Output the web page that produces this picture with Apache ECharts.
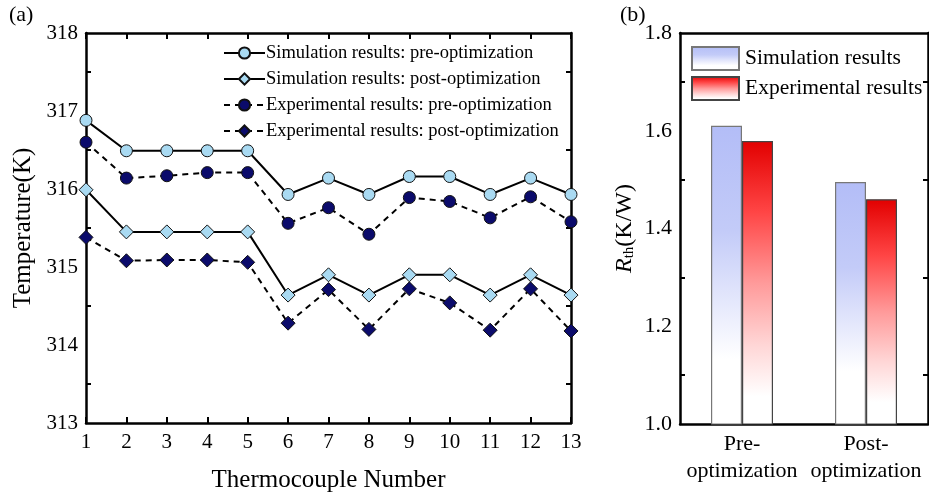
<!DOCTYPE html>
<html><head><meta charset="utf-8">
<script src="https://cdn.jsdelivr.net/npm/echarts@6/dist/echarts.min.js"></script>
<style>html,body{margin:0;padding:0;background:#fff}#c{width:929px;height:494px}</style>
</head><body><div id="c"></div>
<script>
const thermocouples = ['1','2','3','4','5','6','7','8','9','10','11','12','13'];
const simPre  = [316.88,316.49,316.49,316.49,316.49,315.93,316.14,315.93,316.16,316.16,315.93,316.14,315.93];
const simPost = [315.99,315.45,315.45,315.45,315.45,314.64,314.90,314.64,314.90,314.90,314.64,314.90,314.64];
const expPre  = [316.60,316.14,316.17,316.21,316.21,315.56,315.76,315.42,315.89,315.84,315.63,315.90,315.58];
const expPost = [315.38,315.08,315.09,315.09,315.06,314.28,314.71,314.20,314.72,314.54,314.19,314.72,314.18];
const lineNames = ['Simulation results: pre-optimization','Simulation results: post-optimization','Experimental results: pre-optimization','Experimental results: post-optimization'];

const barCats = ['Pre-\noptimization','Post-\noptimization'];
const barSim = [1.61,1.495];
const barExp = [1.579,1.46];
const barNames = ['Simulation results','Experimental results'];

const F = '"Liberation Serif","Times New Roman",serif';
const AX = {lineStyle:{color:'#000',width:2.5}};
const TK = {inside:true,length:6,lineStyle:{width:2,color:'#000'}};
const MT = {show:true,splitNumber:2,length:5,lineStyle:{width:2,color:'#000'}};
const chart = echarts.init(document.getElementById('c'));
const lightBlue = '#a9daf2', navy = '#0b0b6b';
function lineSeries(name, data, symbol, color, dashed){
  return {type:'line', name, data, xAxisIndex:0, yAxisIndex:0, symbol, symbolSize: symbol==='diamond'?14:12,
    itemStyle:{color, borderColor:'#111', borderWidth:1},
    lineStyle:{color:'#000', width:2, type: dashed?[6,5]:'solid'}, z:3};
}
const gradSim = {type:'linear',x:0,y:0,x2:0,y2:1,colorStops:[
  {offset:0,color:'#b3bdf7'},{offset:0.35,color:'#c3cbf8'},{offset:0.6,color:'#e6e9fc'},{offset:0.78,color:'#ffffff'},{offset:1,color:'#ffffff'}]};
const gradExp = {type:'linear',x:0,y:0,x2:0,y2:1,colorStops:[
  {offset:0,color:'#e20000'},{offset:0.25,color:'#ff4545'},{offset:0.5,color:'#ff9a9a'},{offset:0.72,color:'#ffd6d6'},{offset:0.9,color:'#ffffff'},{offset:1,color:'#ffffff'}]};
chart.setOption({
  animation:false,
  textStyle:{fontFamily:F},
  graphic:[
    {type:'text',left:9,top:4,style:{text:'(a)',font:'22px '+F,fill:'#000'}},
    {type:'text',left:620,top:4,style:{text:'(b)',font:'22px '+F,fill:'#000'}}
  ],
  grid:[
    {left:86,top:33,width:485,height:390,containLabel:false,outerBoundsMode:'none'},
    {left:680,top:33,width:248,height:391,containLabel:false,outerBoundsMode:'none'}
  ],
  legend:[
    {data:lineNames, left:218, top:38, orient:'vertical', itemWidth:41, itemHeight:14, itemGap:6,
     textStyle:{fontFamily:F,fontSize:18.5,lineHeight:20,color:'#000',padding:[0,0,0,-4]}},
    {data:barNames, left:686, top:41, orient:'vertical', icon:'rect', itemWidth:47, itemHeight:23, itemGap:5,
     textStyle:{fontFamily:F,fontSize:21.5,color:'#000',padding:[0,0,0,1]}}
  ],
  xAxis:[
    {type:'category', gridIndex:0, data:thermocouples, boundaryGap:false, position:'bottom',
     axisLine:AX, axisTick:TK,
     axisLabel:{fontFamily:F,fontSize:21,color:'#000',margin:9},
     name:'Thermocouple Number', nameLocation:'middle', nameGap:45, nameTextStyle:{fontFamily:F,fontSize:25,color:'#000'}},
    {type:'category', gridIndex:0, data:thermocouples, boundaryGap:false, position:'top',
     axisLine:AX, axisTick:TK, axisLabel:{show:false}},
    {type:'category', gridIndex:1, data:barCats, position:'bottom',
     axisLine:AX, axisTick:{show:false},
     axisLabel:{fontFamily:F,fontSize:22,color:'#000',margin:7,lineHeight:27,interval:0}},
    {type:'category', gridIndex:1, data:barCats, position:'top',
     axisLine:AX, axisTick:{show:false}, axisLabel:{show:false}}
  ],
  yAxis:[
    {type:'value', gridIndex:0, min:313, max:318, interval:1, position:'left',
     axisLine:{show:true,...AX}, axisTick:TK, minorTick:MT,
     splitLine:{show:false}, axisLabel:{fontFamily:F,fontSize:21,color:'#000',margin:8},
     name:'Temperature(K)', nameLocation:'middle', nameGap:40, nameTextStyle:{fontFamily:F,fontSize:25,color:'#000'}},
    {type:'value', gridIndex:0, min:313, max:318, interval:1, position:'right',
     axisLine:{show:true,...AX}, axisTick:TK, minorTick:MT,
     splitLine:{show:false}, axisLabel:{show:false}},
    {type:'value', gridIndex:1, min:1.0, max:1.8, interval:0.2, position:'left',
     axisLine:{show:true,...AX}, axisTick:TK, minorTick:MT,
     splitLine:{show:false}, axisLabel:{fontFamily:F,fontSize:22,color:'#000',margin:8,formatter:v=>v.toFixed(1)},
     name:'{i|R}{s|th}{n|(K/W)}', nameLocation:'middle', nameGap:43,
     nameTextStyle:{rich:{i:{fontFamily:F,fontSize:24,fontStyle:'italic',color:'#000'},
       s:{fontFamily:F,fontSize:15,color:'#000',verticalAlign:'bottom',padding:[10,0,0,0]},
       n:{fontFamily:F,fontSize:24,color:'#000'}}}},
    {type:'value', gridIndex:1, min:1.0, max:1.8, interval:0.2, position:'right',
     axisLine:{show:true,...AX}, axisTick:TK, minorTick:MT,
     splitLine:{show:false}, axisLabel:{show:false}}
  ],
  series:[
    lineSeries(lineNames[0], simPre, 'circle', lightBlue, false),
    lineSeries(lineNames[1], simPost, 'diamond', lightBlue, false),
    lineSeries(lineNames[2], expPre, 'circle', navy, true),
    lineSeries(lineNames[3], expPost, 'diamond', navy, true),
    {type:'bar', name:barNames[0], data:barSim, xAxisIndex:2, yAxisIndex:2, barWidth:31, barGap:'0%',
     itemStyle:{color:gradSim, borderColor:'#777', borderWidth:1.2}},
    {type:'bar', name:barNames[1], data:barExp, xAxisIndex:2, yAxisIndex:2, barWidth:31, barGap:'0%',
     itemStyle:{color:gradExp, borderColor:'#444', borderWidth:1.2}}
  ]
});
</script></body></html>
